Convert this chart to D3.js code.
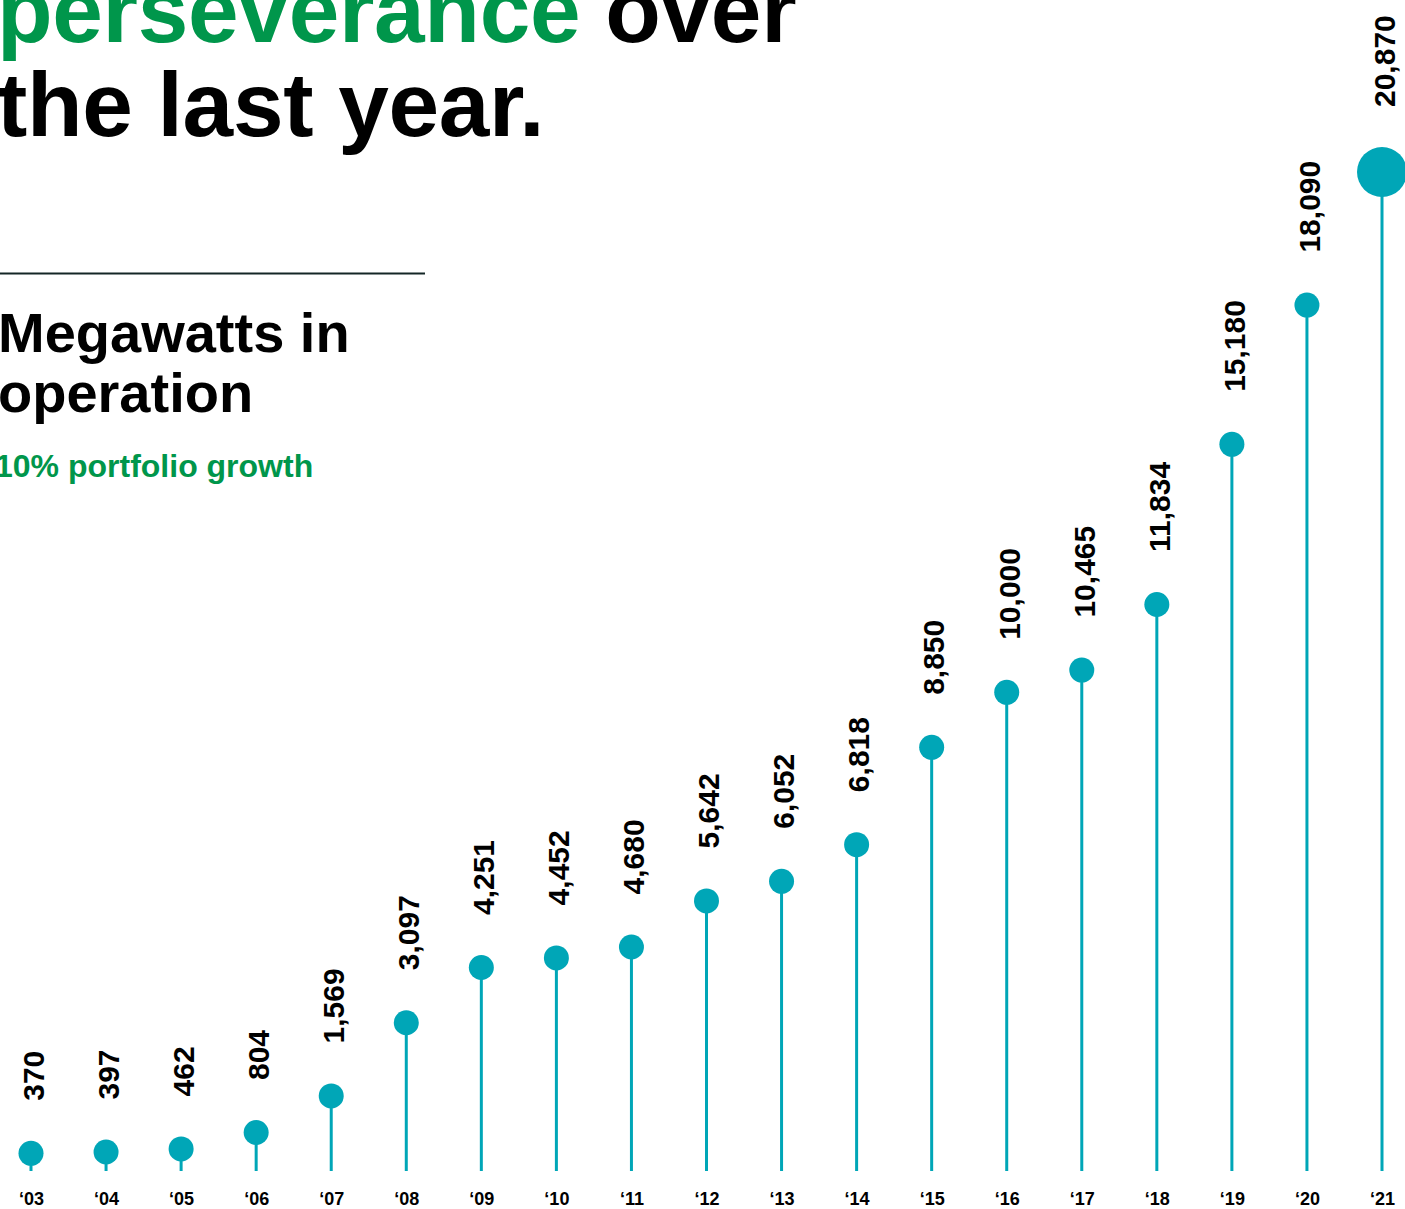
<!DOCTYPE html>
<html>
<head>
<meta charset="utf-8">
<script src="https://cdn.jsdelivr.net/npm/d3@7"></script>
<style>
  body { margin: 0; background: #fff; }
  svg { display: block; }
</style>
</head>
<body>
<div id="chart"></div>
<script>
// chart data
var years = ["‘03","‘04","‘05","‘06","‘07","‘08","‘09","‘10","‘11","‘12","‘13","‘14","‘15","‘16","‘17","‘18","‘19","‘20","‘21"];
var megawatts = [370, 397, 462, 804, 1569, 3097, 4251, 4452, 4680, 5642, 6052, 6818, 8850, 10000, 10465, 11834, 15180, 18090, 20870];

var titleLines = [
  [{t: "perseverance", c: "green"}, {t: " over", c: "black"}],
  [{t: "the last year.", c: "black"}]
];
var subtitleLines = ["Megawatts in", "operation"];
var growthNote = "10% portfolio growth";

var width = 1405, height = 1209;
var teal = "#00a6b7", green = "#00964b";
var font = "'Liberation Sans', Arial, Helvetica, sans-serif";

var svg = d3.select("#chart").append("svg")
    .attr("width", width)
    .attr("height", height)
    .style("font-family", font);

// headline
var title = svg.append("text")
    .attr("font-size", 91)
    .attr("font-weight", "bold")
    .attr("letter-spacing", -0.3);
titleLines.forEach(function(line, i) {
  var tl = title.append("tspan").attr("x", -3).attr("y", 42 + i * 94);
  line.forEach(function(part) {
    tl.append("tspan")
      .attr("fill", part.c == "green" ? green : "#000")
      .text(part.t);
  });
});

// rule
svg.append("line")
    .attr("x1", 0).attr("x2", 425)
    .attr("y1", 273.5).attr("y2", 273.5)
    .style("stroke", "#142626")
    .style("stroke-width", 2);

svg.selectAll(".sub")
    .data(subtitleLines)
    .enter().append("text")
    .attr("class", "sub")
    .attr("x", -2)
    .attr("y", function(d, i) { return 352 + i * 60; })
    .attr("font-size", 56)
    .attr("font-weight", "bold")
    .attr("fill", "#000")
    .text(function(d) { return d; });

svg.append("text")
    .attr("x", -5)
    .attr("y", 477)
    .attr("font-size", 32)
    .attr("font-weight", "bold")
    .attr("fill", green)
    .text(growthNote);

// scales
var x = d3.scalePoint()
    .domain(years)
    .range([31, 1382]);

var y = d3.scaleLinear()
    .domain([0, d3.max(megawatts)])
    .range([1171, 172]);

var data = years.map(function(yr, i) { return {year: yr, value: megawatts[i], last: i == years.length - 1}; });

function radius(d) { return d.last ? 25 : 12.5; }

var g = svg.append("g");

// stems
g.selectAll("line.stem")
    .data(data)
    .enter().append("line")
    .attr("class", "stem")
    .attr("x1", function(d) { return x(d.year); })
    .attr("x2", function(d) { return x(d.year); })
    .attr("y1", function(d) { return y(d.value); })
    .attr("y2", y(0))
    .style("stroke", teal)
    .style("stroke-width", 3);

// dots
g.selectAll("circle")
    .data(data)
    .enter().append("circle")
    .attr("cx", function(d) { return x(d.year); })
    .attr("cy", function(d) { return y(d.value); })
    .attr("r", radius)
    .style("fill", teal);

// value labels
var fmt = d3.format(",");
g.selectAll("text.val")
    .data(data)
    .enter().append("text")
    .attr("class", "val")
    .attr("transform", function(d) {
      return "translate(" + (x(d.year) + 2) + "," + (y(d.value) - radius(d) - 40) + ") rotate(-90)";
    })
    .attr("dy", "0.36em")
    .attr("font-size", 30)
    .attr("font-weight", "bold")
    .attr("fill", "#000")
    .text(function(d) { return fmt(d.value); });

// year axis
var axis = d3.axisBottom(x).tickSize(0).tickPadding(0);
var ax = svg.append("g")
    .attr("transform", "translate(0,1192)")
    .call(axis);
ax.select(".domain").remove();
ax.selectAll("text")
    .attr("font-family", font)
    .attr("font-size", 18)
    .attr("font-weight", "bold")
    .attr("fill", "#000")
    .attr("dy", "0.7em");
</script>
</body>
</html>
